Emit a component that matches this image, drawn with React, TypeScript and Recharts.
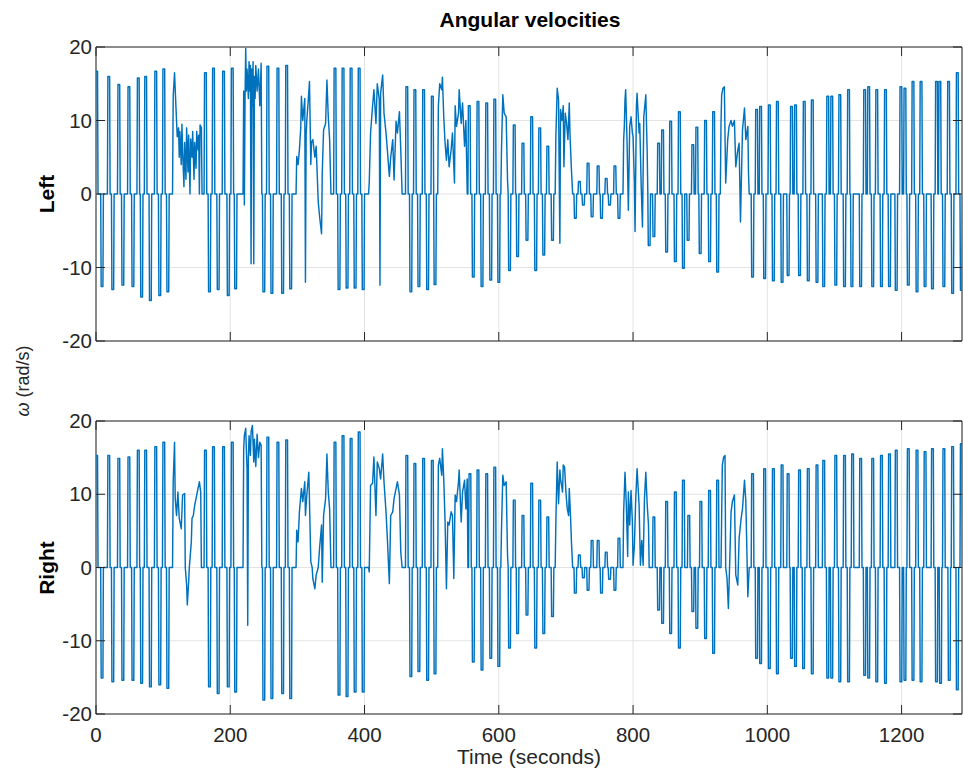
import React from 'react';
import { LineChart, Line, XAxis, YAxis, CartesianGrid, ReferenceArea } from 'recharts';

// ---------- axes ----------
const X_TICKS = [0, 200, 400, 600, 800, 1000, 1200];
const Y_TICKS = [-20, -10, 0, 10, 20];
const X_MAX = 1290;

// ---------- Left wheel: short pulses [time, value] ----------
const LEFT_PULSES: number[][] = [
  [1, 16.7], [9, -12.6], [19, 16], [25, -13], [34, 14.9], [40, -12.4], [49, 14.6], [55, -12.6], [63, 15.8], [68, -14],
  [74, 16], [81, -14.5], [89, 16.7], [95, -13.8], [101, 17], [107, -13.3],
  [163, 16.5], [169, -13.3], [175, 17.1], [182, -13], [190, 16.7], [197, -13.8], [203, 17.1], [208, -12.9],
  [250, -13.3], [256, 17.4], [262, -13.5], [271, 17.1], [278, -13.5], [284, 17.5], [290, -12.9],
  [356, 17.1], [362, -13], [368, 17.1], [374, -12.8], [380, 17.1], [386, -12.8], [392, 17.1], [398, -13],
  [463, 14.6], [469, -13.3], [475, 14.2], [481, -12.6], [488, 14.2], [494, -13], [501, 13.3], [505, -12.3],
  [556, 12], [562, -11.3], [569, 12.6], [575, -12.6], [582, 12.4], [588, -11.7], [594, 12.9], [600, -12],
  [616, -10.4], [623, 9.4], [628, -8.5], [636, 6.9], [642, -6.3], [649, 10.5], [655, -10.4], [661, 9], [667, -8.3],
  [673, 6.5], [680, -6.3],
  [714, -3.3], [720, 1.7], [726, -1.5], [733, 4.2], [739, -3.1], [748, 3.8], [753, -3.3], [760, 2.1], [765, -1.5],
  [773, 3.8], [779, -3.3],
  [824, -7], [831, -5.8], [838, 6.9], [844, 8.7], [850, -7.9], [856, 9.9], [863, -9.2], [869, 11.2], [875, -10.1],
  [882, -6.3], [889, 6.7], [895, 9.1], [900, -8.1], [908, 10], [914, -9.2], [920, 11.2], [926, -10.6],
  [978, -11.3], [984, 11.5], [990, 11.9], [996, -11.5], [1003, 12.1], [1009, -11.8], [1015, 12.6], [1022, -12],
  [1031, -11.1], [1036, 11.9], [1042, 12.1], [1048, -11.1], [1055, 12.6], [1061, -11.8], [1067, 12.8], [1074, -12],
  [1084, -12.6], [1090, 13.3], [1096, 13.3], [1102, -12.4], [1108, 13.5], [1115, -12.6], [1121, 14.2], [1126, -12.6],
  [1139, -12.6], [1145, 14.2], [1151, 14.6], [1157, -12.6], [1163, 14.2], [1170, -12.6], [1176, 14.2], [1182, -12.6],
  [1192, -13.1], [1199, 14.6], [1205, 14.4], [1210, -12.4], [1217, 15.3], [1223, -13.3], [1229, 15.3], [1235, -12.6],
  [1246, -12.9], [1252, 15.3], [1257, 15.3], [1263, -12.6], [1270, 15.3], [1276, -13.5], [1283, 16.5], [1289, -13.1],
];

// ---------- Left wheel: continuous stretches [time, value] ----------
const LEFT_N1 = [[114, 0], [115, 13.3], [117, 16.5], [119, 12], [121, 7.8], [123, 9], [124, 5], [125, 8.5], [127, 4], [128, 9.5], [129, 6], [131, 1], [132, 7], [134, 2], [135, 9], [137, 3], [138, 8], [140, 0], [141, 7.5], [143, 5], [144, 8.5], [146, 2], [147, 7], [149, 3.5], [150, 8.5], [152, 6], [153, 8], [154, 0], [155, 9.4], [157, 9], [158, 0]];
const LEFT_N2 = [[219, 0], [220, 14], [221, -1.5], [222, 13], [223, 19.8], [224, 14], [225, 17], [227, 13], [228, 18], [229, 14], [230, 17.5], [231, -9.5], [232, 17], [233, 12], [234, 18], [235, -9.5], [236, 16], [237, 13], [238, 17.5], [240, 14], [242, 17], [244, 12], [246, 17.8], [247, 0]];
const LEFT_N3 = [[298, 0], [299, 5.1], [301, 4], [303, 6], [305, 9], [306, 13.3], [308, 10], [310, 12], [311, 13], [312, -12], [313, 8], [314, 10], [316, 12.5], [318, 15.3], [320, 4], [321, 7], [323, 7.4], [325, 5.8], [326, 5], [328, 6.5], [329, 4], [331, -1], [333, -3], [336, -5.4], [337, 2.8], [339, 8.7], [342, 9.6], [344, 15.5], [346, 10.5], [348, 7.4], [350, 0]];
const LEFT_N4 = [[406, 0], [407, 1.5], [409, 8.3], [412, 12], [414, 14.2], [417, 9.6], [419, 15], [422, 12.8], [423, -12.4], [424, 13.7], [427, 16.2], [429, 11], [432, 8.3], [434, 6], [437, 2.4], [439, 5], [442, 7.4], [444, 1.9], [447, 9.9], [449, 8.3], [452, 11.2], [454, 6], [456, 0]];
const LEFT_N5 = [[509, 0], [510, 12], [512, 15], [515, 14.2], [516, 15.9], [518, 10.5], [520, 6.9], [522, 4.6], [524, 7.4], [526, 3.7], [529, 6], [531, 8.3], [534, 1.5], [535, 12], [537, 9.2], [540, 11], [541, 14.2], [544, 9.6], [546, 12.4], [549, 6.5], [551, 10], [553, 0]];
const LEFT_N6 = [[603, 0], [604, 6], [606, 13.5], [608, 11], [611, 10.5], [613, 1.9], [614, 0]];
const LEFT_N7 = [[684, 0], [685, 7.8], [687, 14.4], [689, 12.8], [691, -6.7], [692, 11.5], [694, 10], [696, 12], [697, 3.7], [699, 11], [701, 9.6], [703, 7.4], [705, 12.4], [706, 8.3], [708, 3.7], [710, 0]];
const LEFT_N8 = [[785, 0], [786, 7.4], [787, 9.2], [788, 12.8], [789, 14.2], [791, 7.4], [793, -2.2], [795, 9.2], [797, 10.5], [799, 8.3], [800, 7.8], [802, 1.5], [803, -5.1], [805, 12], [806, 13.7], [809, 8.3], [810, 9.6], [812, 1.5], [814, -4.5], [816, 10.5], [819, 13.5], [820, 9.6], [821, 6], [822, 0]];
const LEFT_N9 = [[930, 0], [931, 9.6], [932, 13.5], [934, 14.4], [936, 14.6], [938, 1.5], [941, 7.4], [943, 9.2], [946, 10], [948, 9.2], [951, 10], [953, 3.7], [956, 6], [958, 6.9], [960, -3.8], [962, 4.6], [963, 8.7], [966, 11.7], [968, 7.4], [971, 9.2], [972, 2.8], [973, 0]];

// ---------- Right wheel: short pulses [time, value] ----------
const RIGHT_PULSES: number[][] = [
  [1, 15.3], [9, -15.1], [19, 15.3], [25, -15.6], [34, 14.9], [40, -15.4], [49, 15.1], [55, -15.4], [63, 16], [68, -15.8],
  [74, 16], [81, -16.3], [89, 16.5], [95, -16], [101, 17.1], [107, -16.5],
  [163, 16], [169, -16.3], [175, 16.5], [182, -17.2], [190, 16.5], [197, -16.3], [203, 17.1], [208, -17],
  [250, -18.1], [256, 17.8], [262, -17.9], [271, 17.1], [278, -17.2], [284, 17.4], [290, -17.9],
  [356, 17.1], [362, -17.4], [368, 18], [374, -17.6], [380, 17.6], [386, -17], [392, 18.5], [398, -17],
  [463, 15.3], [469, -14.9], [475, 14.2], [481, -14.2], [488, 14.9], [494, -15.4], [501, 14.6], [505, -14.5],
  [557, 12.8], [562, -12.9], [569, 13.3], [575, -14], [582, 12.8], [588, -12.4], [594, 13.7], [600, -13.5],
  [616, -11], [623, 9.2], [628, -9], [636, 7.1], [642, -6.5], [649, 11.5], [655, -11], [661, 9.2], [667, -9],
  [673, 6.9], [680, -6.7],
  [714, -3.5], [720, 1.7], [726, -1.4], [733, -3.1], [739, 3.7], [748, 3.7], [753, -3.5], [760, 2.1], [765, -1.6],
  [773, -3.1], [779, 4],
  [831, 6.9], [838, -5.8], [844, -7.6], [850, 9], [856, -9], [863, 10.3], [869, -11], [875, 11.9], [883, 7.1],
  [889, -6], [895, -8.3], [901, 9], [908, -9.7], [914, 10.5], [920, -11.7], [926, 11.9],
  [978, 12.8], [984, -12.4], [990, -13.1], [996, 13.5], [1003, -13.8], [1009, 13.5], [1015, -14.5], [1022, 14],
  [1031, 12.8], [1036, -12.4], [1042, -13.5], [1048, 13.3], [1054, -13.8], [1061, 13.5], [1067, -14.5], [1074, 14],
  [1084, 14.6], [1090, -15.1], [1096, -15.1], [1102, 15.3], [1108, -15.6], [1115, 15.3], [1121, -15.6], [1127, 15.5],
  [1139, 14.9], [1145, -14.7], [1151, -15.1], [1157, 14.9], [1163, -15.6], [1170, 15.3], [1176, -15.8], [1182, 15.5],
  [1192, 16], [1199, -15.6], [1205, -15.4], [1210, 16.2], [1217, -15.4], [1223, 16], [1229, -15.6], [1235, 15.8],
  [1246, 16.2], [1252, -15.6], [1258, -15.8], [1263, 16.2], [1271, -15.4], [1276, 16.5], [1283, -16.7], [1289, 16.9],
];

// ---------- Right wheel: continuous stretches [time, value] ----------
const RIGHT_N1 = [[114, 0], [115, 11.7], [117, 17.1], [118, 9.4], [120, 7.1], [122, 10.3], [124, 6.7], [127, 5.3], [129, 9.9], [132, 10.1], [133, 0], [135, -2.4], [136, -5.1], [138, -2], [139, 0], [142, 3.5], [143, 6.7], [145, 7.1], [147, 8.5], [149, 9.4], [152, 10.8], [154, 11.7], [156, 10.3], [157, 0]];
const RIGHT_N2 = [[219, 0], [220, 16.2], [221, 18], [223, 19], [224, 16], [225, 13.5], [226, -7.9], [227, 15], [228, 18], [230, 15.3], [231, 18.5], [233, 19.4], [235, 14.4], [236, 17.5], [238, 13.8], [240, 18.2], [242, 15], [244, 17.1], [246, 16.7], [247, 0]];
const RIGHT_N3 = [[298, 0], [299, 5.1], [301, 3.5], [303, 7.6], [306, 10.8], [308, 9], [311, 11.7], [312, 7.1], [314, 9.9], [317, 13], [318, 9], [320, 0.8], [322, 0], [323, -1.5], [326, -2.9], [328, -1], [331, 0], [333, 2.6], [336, 5.8], [337, -2], [339, 7.1], [342, 9.4], [344, 15.5], [346, 10.3], [348, 8], [350, 0]];
const RIGHT_N4 = [[406, 0], [407, -0.6], [409, 11.2], [412, 11.5], [414, 15.1], [417, 7.1], [419, 14.4], [422, 13.5], [424, 12.1], [427, 15.5], [429, 11.7], [432, 7.6], [434, 4], [437, -2.2], [439, 7.1], [442, 7.6], [444, 9.4], [447, 10.8], [449, 11.7], [452, 9.9], [454, 2.1], [456, 0]];
const RIGHT_N5 = [[509, 0], [510, 14], [512, 14.9], [515, 12.6], [516, 16.2], [518, 12.1], [520, 6.2], [522, -2.9], [524, 6.2], [526, 5.8], [529, 7.6], [531, 7.1], [533, -1.5], [535, 9.9], [537, 9], [540, 11.7], [541, 13.3], [544, 6.2], [546, 10.3], [549, 11.9], [551, 8], [553, 12.1], [554, 0]];
const RIGHT_N6 = [[603, 0], [604, 5.1], [606, 12.6], [608, 11.2], [611, 11.7], [613, 1.7], [614, 0]];
const RIGHT_N7 = [[684, 0], [685, 6.2], [687, 14.4], [689, 8.7], [691, 13.3], [692, 12.1], [695, 10.3], [696, 14], [698, 13.7], [700, 10.3], [702, 8], [704, 7.1], [705, 10.8], [707, 6.7], [708, 4], [710, 0]];
const RIGHT_N8 = [[785, 0], [786, 7.6], [788, 13], [790, 8.5], [792, 1.5], [793, 10.3], [795, 5.8], [797, 10.5], [799, 6.2], [800, 0.3], [802, 3], [804, 9.4], [806, 13.5], [809, 8.5], [811, 0.3], [813, 3.7], [815, 0.3], [817, 9.4], [819, 13], [821, 8.7], [823, 5.8], [824, 0]];
const RIGHT_N9 = [[931, 0], [932, 7.1], [933, 14], [935, 15.1], [937, 15.3], [938, 0], [940, -1.5], [942, -5.6], [944, 0.8], [946, 7.6], [948, 9], [951, 9.9], [953, -1], [956, -2.4], [958, 4], [961, 6.7], [963, 8], [966, 11.9], [968, 9], [971, -4], [973, 0]];

// ---------- build series ----------
type Pt = { t: number; v: number };
function buildSeries(pulses: number[][], stretches: number[][][]): Pt[] {
  const pts: Pt[] = [];
  for (const [t, v] of pulses) {
    pts.push({ t: t - 2, v: 0 }, { t: t - 1.3, v }, { t: t + 1.3, v }, { t: t + 2, v: 0 });
  }
  for (const s of stretches) for (const [t, v] of s) pts.push({ t, v });
  pts.sort((a, b) => a.t - b.t);
  return pts;
}

const leftData = buildSeries(LEFT_PULSES, [LEFT_N1, LEFT_N2, LEFT_N3, LEFT_N4, LEFT_N5, LEFT_N6, LEFT_N7, LEFT_N8, LEFT_N9]);
const rightData = buildSeries(RIGHT_PULSES, [RIGHT_N1, RIGHT_N2, RIGHT_N3, RIGHT_N4, RIGHT_N5, RIGHT_N6, RIGHT_N7, RIGHT_N8, RIGHT_N9]);

// ---------- style ----------
const FONT = '"Liberation Sans", Arial, Helvetica, sans-serif';
const AX = '#262626';
const LINE = '#0072BD';
const GRID = '#e3e3e3';
const PLOT_L = 96;
const PLOT_R = 962;
const TICK_LEN = 9;

function makeXTick(top: number, bottom: number, showLabel: boolean) {
  return (props: any) => {
    const { x, payload } = props;
    return (
      <g>
        <line x1={x} x2={x} y1={bottom} y2={bottom - TICK_LEN} stroke={AX} strokeWidth={1} />
        <line x1={x} x2={x} y1={top} y2={top + TICK_LEN} stroke={AX} strokeWidth={1} />
        {showLabel ? (
          <text x={x} y={bottom + 28} textAnchor="middle" fontFamily={FONT} fontSize={20.5} fill={AX}>
            {String(payload.value)}
          </text>
        ) : null}
      </g>
    );
  };
}

function yTick(props: any) {
  const { y, payload } = props;
  return (
    <g>
      <line x1={PLOT_L} x2={PLOT_L + TICK_LEN} y1={y} y2={y} stroke={AX} strokeWidth={1} />
      <line x1={PLOT_R} x2={PLOT_R - TICK_LEN} y1={y} y2={y} stroke={AX} strokeWidth={1} />
      <text x={PLOT_L - 4} y={y} dy={7} textAnchor="end" fontFamily={FONT} fontSize={20.5} fill={AX}>
        {String(payload.value)}
      </text>
    </g>
  );
}

function Panel(props: { data: Pt[]; height: number; top: number; bottomMargin: number; axisH: number; showX: boolean }) {
  const { data, height, top, bottomMargin, axisH, showX } = props;
  const plotBottom = height - bottomMargin - axisH;
  return (
    <LineChart width={963} height={height} data={data} margin={{ top, right: 1, bottom: bottomMargin, left: 0 }}>
      <CartesianGrid stroke={GRID} strokeWidth={1} />
      <XAxis
        dataKey="t"
        type="number"
        domain={[0, X_MAX]}
        allowDataOverflow
        ticks={X_TICKS}
        interval={0}
        height={axisH}
        axisLine={false}
        tickLine={false}
        tick={makeXTick(top, plotBottom, showX)}
      />
      <YAxis
        type="number"
        domain={[-20, 20]}
        allowDataOverflow
        ticks={Y_TICKS}
        interval={0}
        width={PLOT_L}
        axisLine={false}
        tickLine={false}
        tick={yTick}
      />
      <Line type="linear" dataKey="v" stroke={LINE} strokeWidth={1.45} strokeLinejoin="round" dot={false} isAnimationActive={false} />
      <ReferenceArea x1={0} x2={X_MAX} y1={-20} y2={20} fill="none" fillOpacity={0} stroke={AX} strokeWidth={1} ifOverflow="visible" />
    </LineChart>
  );
}

export default function App() {
  return (
    <div style={{ position: 'absolute', left: 0, top: 0, width: 963, height: 776, background: '#fff', overflow: 'hidden' }}>
      <div style={{ position: 'absolute', left: 0, top: 0 }}>
        <Panel data={leftData} height={381} top={47} bottomMargin={10} axisH={30} showX={false} />
      </div>
      <div style={{ position: 'absolute', left: 0, top: 381 }}>
        <Panel data={rightData} height={395} top={40} bottomMargin={22} axisH={40} showX={true} />
      </div>
      <svg width={963} height={776} style={{ position: 'absolute', left: 0, top: 0, pointerEvents: 'none' }}>
        <text x={530} y={27} textAnchor="middle" fontFamily={FONT} fontSize={21} fontWeight="bold" fill="#000">
          Angular velocities
        </text>
        <text transform="translate(54,194) rotate(-90)" textAnchor="middle" fontFamily={FONT} fontSize={21} fontWeight="bold" fill="#000">
          Left
        </text>
        <text transform="translate(54,568) rotate(-90)" textAnchor="middle" fontFamily={FONT} fontSize={21} fontWeight="bold" fill="#000">
          Right
        </text>
        <text transform="translate(29,381) rotate(-90)" textAnchor="middle" fontFamily={FONT} fontSize={18} fill={AX}>
          <tspan fontStyle="italic">ω</tspan> (rad/s)
        </text>
        <text x={529} y={764} textAnchor="middle" fontFamily={FONT} fontSize={21} fill={AX}>
          Time (seconds)
        </text>
      </svg>
    </div>
  );
}
